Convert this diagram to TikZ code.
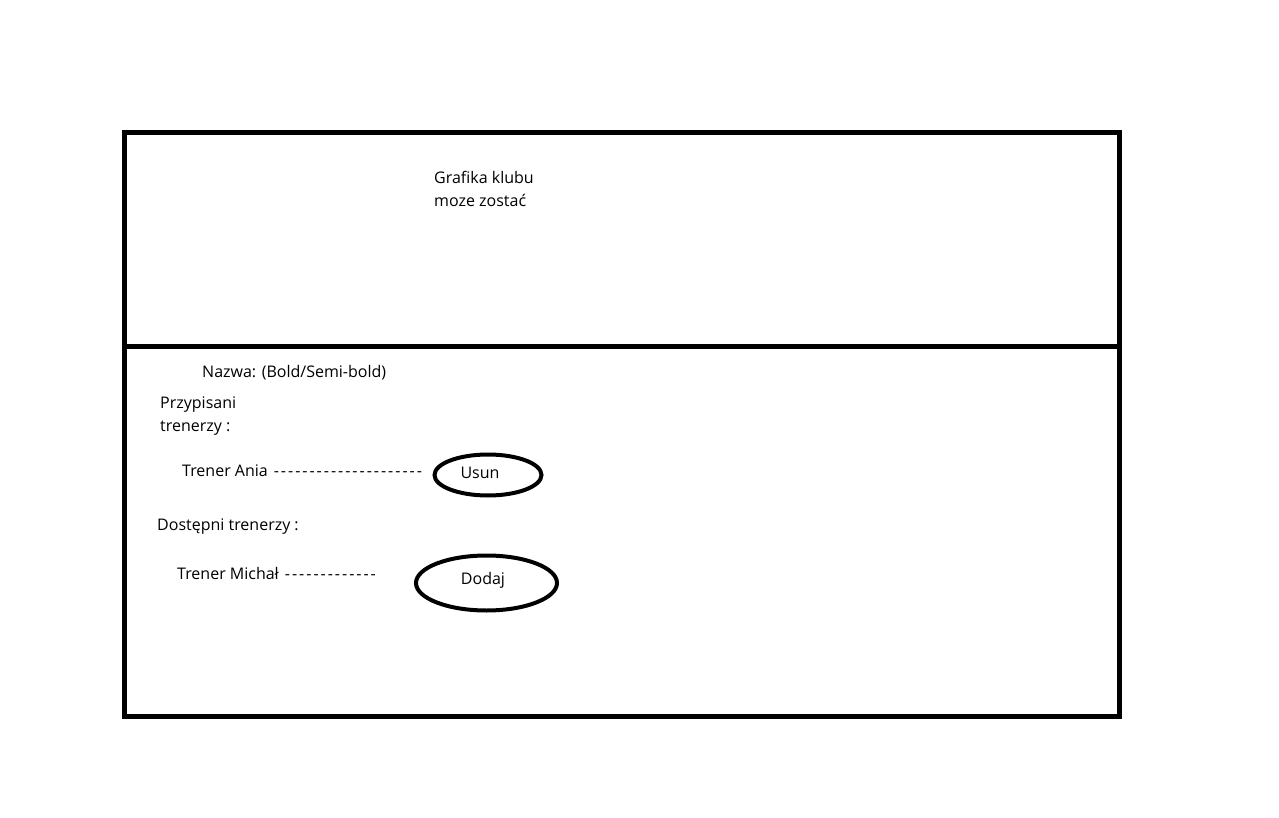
\documentclass[tikz,border=0pt]{standalone}
\usepackage{fontspec}
\setmainfont[Ligatures=TeXOff]{Open Sans}
\newfontfamily\dashfont[Ligatures=TeXOff,LetterSpace=12.5]{Open Sans}
\usetikzlibrary{shapes.geometric}
\begin{document}
\begin{tikzpicture}[x=1pt,y=-1pt,
  frame/.style={draw=black,line width=5pt},
  lbl/.style={anchor=west,inner sep=0pt,font=\fontsize{16}{23}\selectfont},
  btn/.style={draw=black,line width=4pt,ellipse,inner sep=0pt}]
\useasboundingbox (0,0) rectangle (1279,818);
\fill[white] (0,0) rectangle (1279,818);
\draw[frame] (124,132.5) rectangle (1119.5,716);
\draw[frame] (124,346.5) -- (1119.5,346.5);
\node[lbl,align=left] (graf) at (434,189) {Grafika klubu\\moze zostać};
\node[lbl] (nazwa) at (202,373) {Nazwa: (Bold/Semi-bold)};
\node[lbl,align=left] (przyp) at (160,416) {Przypisani\\trenerzy :};
\node[lbl] (ania) at (182,471) {Trener Ania\hspace{6pt}{\dashfont ---------------------}};
\node[btn,minimum width=107pt,minimum height=41pt] (usun) at (488,475) {};
\node[lbl,anchor=center] (usuntxt) at (480,473) {Usun};
\node[lbl] (dost) at (157,527) {Dostępni trenerzy :};
\node[lbl] (michal) at (177,573) {Trener Michał\hspace{6pt}{\dashfont -------------}};
\node[btn,minimum width=141pt,minimum height=55pt] (dodaj) at (486.5,583) {};
\node[lbl,anchor=center] (dodajtxt) at (483,580) {Dodaj};
\end{tikzpicture}
\end{document}
